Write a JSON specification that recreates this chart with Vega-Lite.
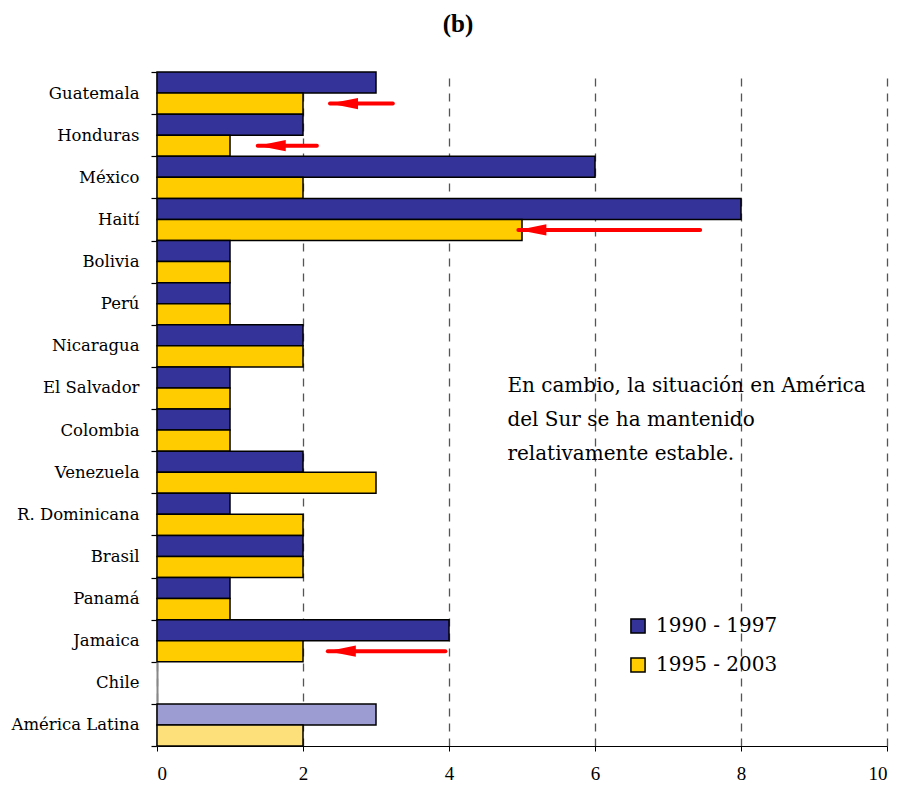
{
  "$schema": "https://vega.github.io/schema/vega-lite/v6.json",
  "width": 730,
  "height": 674,
  "autosize": "none",
  "padding": {"left": 157, "top": 72, "right": 13, "bottom": 43},
  "title": {"text": "(b)", "font": "Liberation Serif", "fontSize": 25, "fontWeight": "bold", "anchor": "middle", "dx": -64, "offset": 27, "color": "black"},
  "config": {"view": {"stroke": null}, "font": "DejaVu Serif"},
  "datasets": {
    "bars": [
      {"country": "Guatemala", "period": "1990 - 1997", "value": 3},
      {"country": "Guatemala", "period": "1995 - 2003", "value": 2},
      {"country": "Honduras", "period": "1990 - 1997", "value": 2},
      {"country": "Honduras", "period": "1995 - 2003", "value": 1},
      {"country": "México", "period": "1990 - 1997", "value": 6},
      {"country": "México", "period": "1995 - 2003", "value": 2},
      {"country": "Haití", "period": "1990 - 1997", "value": 8},
      {"country": "Haití", "period": "1995 - 2003", "value": 5},
      {"country": "Bolivia", "period": "1990 - 1997", "value": 1},
      {"country": "Bolivia", "period": "1995 - 2003", "value": 1},
      {"country": "Perú", "period": "1990 - 1997", "value": 1},
      {"country": "Perú", "period": "1995 - 2003", "value": 1},
      {"country": "Nicaragua", "period": "1990 - 1997", "value": 2},
      {"country": "Nicaragua", "period": "1995 - 2003", "value": 2},
      {"country": "El Salvador", "period": "1990 - 1997", "value": 1},
      {"country": "El Salvador", "period": "1995 - 2003", "value": 1},
      {"country": "Colombia", "period": "1990 - 1997", "value": 1},
      {"country": "Colombia", "period": "1995 - 2003", "value": 1},
      {"country": "Venezuela", "period": "1990 - 1997", "value": 2},
      {"country": "Venezuela", "period": "1995 - 2003", "value": 3},
      {"country": "R. Dominicana", "period": "1990 - 1997", "value": 1},
      {"country": "R. Dominicana", "period": "1995 - 2003", "value": 2},
      {"country": "Brasil", "period": "1990 - 1997", "value": 2},
      {"country": "Brasil", "period": "1995 - 2003", "value": 2},
      {"country": "Panamá", "period": "1990 - 1997", "value": 1},
      {"country": "Panamá", "period": "1995 - 2003", "value": 1},
      {"country": "Jamaica", "period": "1990 - 1997", "value": 4},
      {"country": "Jamaica", "period": "1995 - 2003", "value": 2},
      {"country": "América Latina", "period": "1990 - 1997", "value": 3},
      {"country": "América Latina", "period": "1995 - 2003", "value": 2}
    ],
    "arrows": [
      {"country": "Guatemala", "period": "1995 - 2003", "tail": 3.23, "tip": 2.37},
      {"country": "Honduras", "period": "1995 - 2003", "tail": 2.19, "tip": 1.38},
      {"country": "Haití", "period": "1995 - 2003", "tail": 7.44, "tip": 4.95},
      {"country": "Jamaica", "period": "1995 - 2003", "tail": 3.95, "tip": 2.34}
    ],
    "note": [
      {"country": "El Salvador", "x": 4.8, "text": ["En cambio, la situación en América", "del Sur se ha  mantenido", "relativamente estable."]}
    ]
  },
  "encoding": {
    "y": {
      "field": "country", "type": "nominal",
      "scale": {"domain": ["Guatemala", "Honduras", "México", "Haití", "Bolivia", "Perú", "Nicaragua", "El Salvador", "Colombia", "Venezuela", "R. Dominicana", "Brasil", "Panamá", "Jamaica", "Chile", "América Latina"], "paddingInner": 0, "paddingOuter": 0},
      "axis": {"title": null, "tickBand": "extent", "ticks": true, "tickSize": 6, "tickColor": "black", "tickWidth": 1.2, "domainColor": "#888", "domainWidth": 2, "labelFontSize": 16.5, "labelPadding": 12, "labelColor": "black", "labelFont": "DejaVu Serif", "grid": false}
    }
  },
  "layer": [
    {
      "data": {"name": "bars"},
      "transform": [{"filter": "datum.country !== 'América Latina'"}],
      "mark": {"type": "bar", "stroke": "black", "strokeWidth": 1.5},
      "encoding": {
        "yOffset": {"field": "period", "type": "nominal", "scale": {"domain": ["1990 - 1997", "1995 - 2003"], "paddingInner": 0, "paddingOuter": 0}},
        "x": {"field": "value", "type": "quantitative", "scale": {"domain": [0, 10], "nice": false},
          "axis": {"title": null, "values": [0, 2, 4, 6, 8, 10], "format": "d", "grid": true, "gridDash": [8, 7], "gridColor": "#555", "gridWidth": 1.3, "ticks": true, "tickSize": 5, "tickColor": "black", "domainColor": "black", "domainWidth": 1.2, "labelPadding": 13, "labelFontSize": 19, "labelColor": "black", "labelFont": "Liberation Serif"}},
        "color": {"field": "period", "type": "nominal", "scale": {"domain": ["1990 - 1997", "1995 - 2003"], "range": ["#333399", "#ffcc00"]},
          "legend": {"orient": "none", "legendX": 471, "legendY": 544, "title": null, "symbolType": "square", "symbolSize": 200, "symbolStrokeColor": "black", "symbolStrokeWidth": 1.5, "symbolOpacity": 1, "labelFontSize": 20, "labelFont": "DejaVu Serif", "labelColor": "black", "rowPadding": 17, "labelOffset": 8, "labelLimit": 300}}
      }
    },
    {
      "data": {"name": "bars"},
      "transform": [{"filter": "datum.country === 'América Latina'"}],
      "mark": {"type": "bar", "stroke": "black", "strokeWidth": 1.5},
      "encoding": {
        "yOffset": {"field": "period", "type": "nominal", "scale": {"domain": ["1990 - 1997", "1995 - 2003"], "paddingInner": 0, "paddingOuter": 0}},
        "x": {"field": "value", "type": "quantitative"},
        "color": {"field": "period", "type": "nominal", "scale": {"domain": ["1990 - 1997", "1995 - 2003"], "range": ["#9c9cd2", "#fde07a"]}, "legend": null}
      }
    },
    {
      "data": {"name": "arrows"},
      "mark": {"type": "rule", "color": "#ff0000", "strokeWidth": 4, "strokeCap": "round", "yOffset": -3},
      "encoding": {
        "yOffset": {"field": "period", "type": "nominal", "scale": {"domain": ["1990 - 1997", "1995 - 2003"], "paddingInner": 0, "paddingOuter": 0}},
        "x": {"field": "tail", "type": "quantitative"},
        "x2": {"field": "tip"}
      }
    },
    {
      "data": {"name": "arrows"},
      "mark": {"type": "point", "filled": true, "color": "#ff0000", "opacity": 1, "shape": "M0,0 L2,-0.4 L2,0.4 Z", "size": 784, "yOffset": -3},
      "encoding": {
        "yOffset": {"field": "period", "type": "nominal", "scale": {"domain": ["1990 - 1997", "1995 - 2003"], "paddingInner": 0, "paddingOuter": 0}},
        "x": {"field": "tip", "type": "quantitative"}
      }
    },
    {
      "data": {"name": "note"},
      "mark": {"type": "text", "align": "left", "baseline": "top", "dy": -12, "fontSize": 20, "lineHeight": 34, "font": "DejaVu Serif", "color": "black"},
      "encoding": {
        "x": {"field": "x", "type": "quantitative"},
        "text": {"field": "text"}
      }
    }
  ],
  "resolve": {"scale": {"color": "independent"}}
}
